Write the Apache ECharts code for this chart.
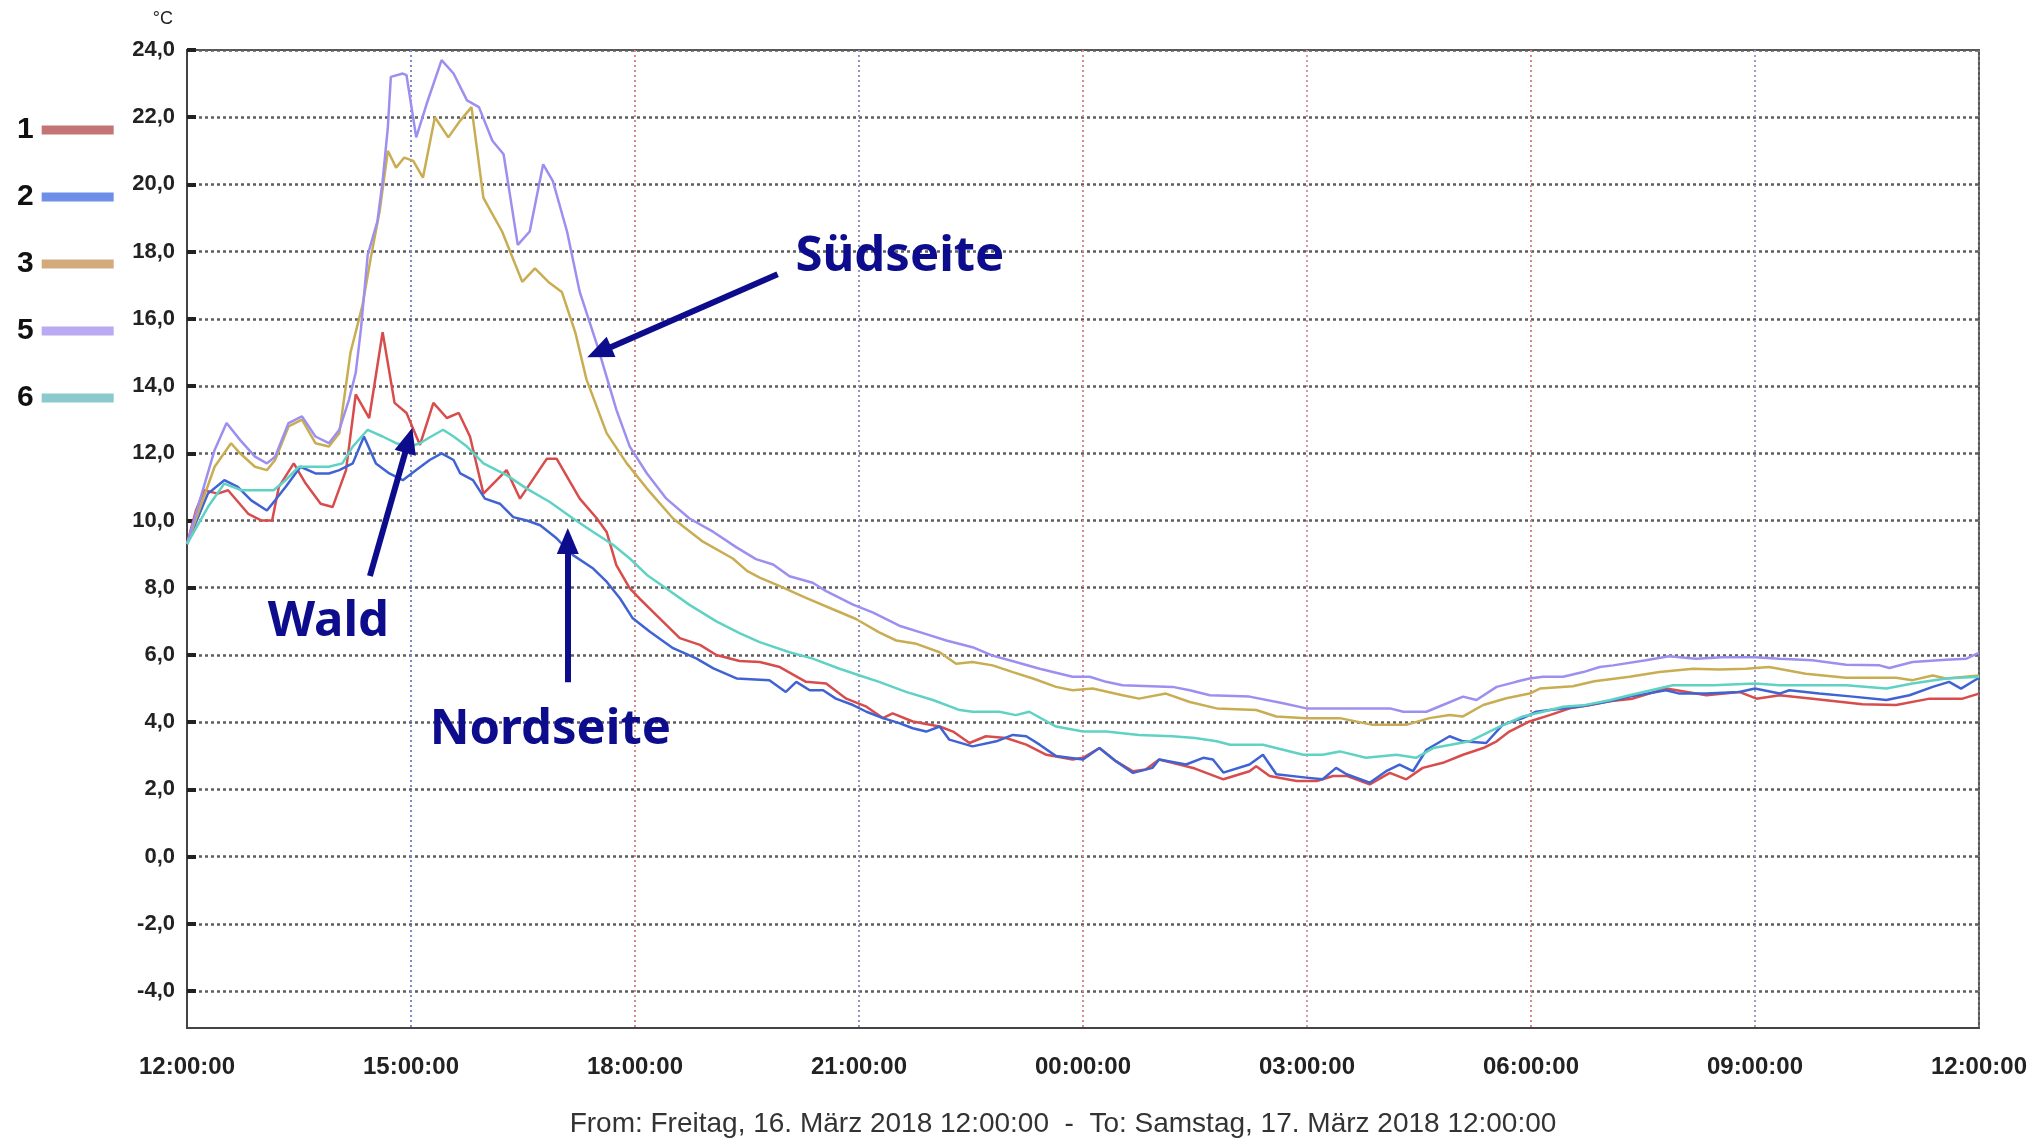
<!DOCTYPE html>
<html><head><meta charset="utf-8">
<script src="https://cdn.jsdelivr.net/npm/echarts@6/dist/echarts.min.js"></script>
<style>html,body{margin:0;padding:0;background:#fff}#c{width:2030px;height:1139px}</style>
</head><body><div id="c"></div>
<script>
// ---- data (hours after Fri 12:00, °C) ----
const seriesNames = ['1', '2', '3', '5', '6'];
const legendColors = ['#c47474', '#6d8fe8', '#d3aa7a', '#b9aaf2', '#8ac9cc'];
const lineColors = ['#d84c4c', '#4063d4', '#c9ad52', '#9d8ff0', '#5fd2c4'];
const xTickLabels = ['12:00:00', '15:00:00', '18:00:00', '21:00:00', '00:00:00', '03:00:00', '06:00:00', '09:00:00', '12:00:00'];
const yTickValues = [-4, -2, 0, 2, 4, 6, 8, 10, 12, 14, 16, 18, 20, 22, 24];
const subtitle = 'From: Freitag, 16. März 2018 12:00:00  -  To: Samstag, 17. März 2018 12:00:00';

const s1 = [[0,9.3],[0.12,10.3],[0.23,10.9],[0.41,10.8],[0.55,10.9],[0.82,10.2],[1.0,10.0],[1.14,10.0],[1.23,11.0],[1.43,11.7],[1.59,11.1],[1.79,10.5],[1.95,10.4],[2.13,11.5],[2.26,13.75],[2.44,13.05],[2.62,15.6],[2.78,13.5],[2.94,13.2],[3.12,12.25],[3.30,13.5],[3.48,13.05],[3.64,13.2],[3.79,12.5],[3.97,10.8],[4.28,11.5],[4.46,10.65],[4.82,11.84],[4.95,11.84],[5.26,10.65],[5.49,10.06],[5.62,9.66],[5.75,8.67],[5.93,7.98],[6.06,7.68],[6.33,7.09],[6.6,6.5],[6.87,6.3],[7.09,6.0],[7.40,5.82],[7.67,5.79],[7.94,5.64],[8.29,5.2],[8.56,5.15],[8.83,4.7],[9.10,4.46],[9.32,4.12],[9.45,4.26],[9.72,4.02],[10.08,3.87],[10.26,3.72],[10.48,3.38],[10.70,3.58],[10.97,3.53],[11.24,3.33],[11.51,3.03],[11.86,2.89],[12.0,2.94],[12.22,3.23],[12.44,2.84],[12.67,2.54],[12.84,2.59],[13.02,2.89],[13.29,2.74],[13.50,2.62],[13.88,2.3],[14.23,2.54],[14.32,2.69],[14.5,2.4],[14.86,2.25],[15.13,2.25],[15.35,2.4],[15.53,2.4],[15.84,2.15],[16.11,2.49],[16.33,2.3],[16.55,2.64],[16.82,2.79],[17.09,3.03],[17.36,3.23],[17.54,3.43],[17.71,3.72],[17.98,4.02],[18.25,4.21],[18.52,4.41],[18.78,4.5],[19.05,4.62],[19.36,4.7],[19.81,5.0],[20.35,4.8],[20.79,4.9],[21.02,4.7],[21.33,4.8],[21.77,4.7],[22.44,4.53],[22.89,4.51],[23.34,4.7],[23.78,4.7],[24.0,4.85]];
const s2 = [[0,9.3],[0.28,10.8],[0.50,11.2],[0.68,11.0],[0.86,10.6],[1.07,10.3],[1.18,10.6],[1.32,11.0],[1.52,11.6],[1.72,11.4],[1.90,11.4],[2.04,11.5],[2.22,11.7],[2.37,12.5],[2.53,11.7],[2.71,11.4],[2.89,11.2],[3.07,11.5],[3.25,11.8],[3.41,12.0],[3.57,11.8],[3.66,11.4],[3.83,11.2],[3.99,10.65],[4.19,10.5],[4.37,10.1],[4.55,10.0],[4.73,9.86],[4.95,9.47],[5.17,8.97],[5.44,8.57],[5.62,8.18],[5.80,7.68],[5.97,7.09],[6.2,6.69],[6.51,6.2],[6.82,5.9],[7.05,5.6],[7.36,5.3],[7.80,5.25],[8.02,4.9],[8.16,5.2],[8.34,4.95],[8.52,4.95],[8.69,4.7],[8.92,4.51],[9.10,4.31],[9.32,4.12],[9.54,3.97],[9.72,3.82],[9.90,3.72],[10.08,3.87],[10.21,3.48],[10.52,3.28],[10.84,3.43],[11.06,3.62],[11.24,3.58],[11.42,3.33],[11.64,2.99],[12.0,2.89],[12.22,3.23],[12.44,2.84],[12.67,2.49],[12.93,2.64],[13.02,2.89],[13.38,2.74],[13.61,2.94],[13.74,2.89],[13.88,2.5],[14.23,2.74],[14.41,3.03],[14.59,2.45],[14.99,2.35],[15.21,2.3],[15.39,2.64],[15.53,2.45],[15.84,2.2],[16.06,2.54],[16.24,2.74],[16.42,2.54],[16.6,3.18],[16.91,3.58],[17.09,3.43],[17.40,3.38],[17.62,3.92],[17.89,4.12],[18.07,4.31],[18.25,4.36],[18.43,4.41],[18.70,4.48],[19.05,4.62],[19.32,4.76],[19.81,4.95],[19.99,4.85],[20.35,4.85],[20.79,4.9],[21.0,5.0],[21.33,4.85],[21.46,4.95],[21.86,4.85],[22.31,4.76],[22.76,4.66],[23.07,4.8],[23.38,5.05],[23.6,5.2],[23.76,5.0],[24.0,5.32]];
const s3 = [[0,9.3],[0.37,11.6],[0.59,12.3],[0.71,12.0],[0.91,11.6],[1.07,11.5],[1.18,11.8],[1.36,12.8],[1.54,13.0],[1.72,12.3],[1.90,12.2],[2.04,12.6],[2.19,15.0],[2.35,16.4],[2.46,17.8],[2.58,19.2],[2.69,21.0],[2.80,20.5],[2.91,20.8],[3.03,20.7],[3.16,20.2],[3.32,22.0],[3.50,21.4],[3.66,21.9],[3.81,22.3],[3.97,19.6],[4.22,18.6],[4.49,17.1],[4.66,17.5],[4.84,17.1],[5.02,16.8],[5.20,15.6],[5.35,14.2],[5.62,12.6],[5.89,11.7],[6.16,10.95],[6.51,10.06],[6.91,9.37],[7.31,8.87],[7.50,8.5],[7.67,8.3],[7.94,8.05],[8.29,7.7],[8.65,7.36],[8.96,7.07],[9.27,6.67],[9.50,6.43],[9.77,6.33],[10.08,6.08],[10.30,5.74],[10.52,5.79],[10.79,5.69],[11.06,5.49],[11.33,5.3],[11.64,5.05],[11.86,4.95],[12.13,5.0],[12.53,4.8],[12.75,4.7],[13.11,4.85],[13.43,4.6],[13.79,4.41],[14.32,4.36],[14.59,4.17],[14.99,4.12],[15.44,4.12],[15.88,3.92],[16.33,3.92],[16.64,4.12],[16.91,4.21],[17.09,4.17],[17.36,4.51],[17.67,4.71],[17.98,4.85],[18.12,5.0],[18.56,5.07],[18.85,5.22],[19.32,5.35],[19.72,5.49],[20.17,5.59],[20.52,5.57],[20.88,5.59],[21.19,5.64],[21.68,5.44],[22.22,5.32],[22.89,5.32],[23.11,5.25],[23.38,5.39],[23.56,5.3],[24.0,5.39]];
const s5 = [[0,9.3],[0.37,12.1],[0.53,12.9],[0.71,12.4],[0.91,11.9],[1.07,11.7],[1.18,11.9],[1.36,12.9],[1.54,13.1],[1.72,12.5],[1.90,12.3],[2.04,12.7],[2.17,13.6],[2.26,14.4],[2.33,15.7],[2.42,17.9],[2.55,18.9],[2.62,20.1],[2.69,21.7],[2.73,23.2],[2.89,23.3],[2.94,23.25],[3.07,21.4],[3.21,22.4],[3.41,23.7],[3.57,23.3],[3.75,22.5],[3.91,22.3],[4.09,21.3],[4.24,20.9],[4.43,18.2],[4.59,18.6],[4.77,20.6],[4.90,20.1],[5.09,18.6],[5.26,16.8],[5.51,15.1],[5.75,13.3],[5.93,12.2],[6.16,11.4],[6.42,10.65],[6.73,10.06],[7.05,9.66],[7.36,9.2],[7.62,8.85],[7.85,8.69],[8.07,8.34],[8.38,8.15],[8.56,7.9],[8.92,7.5],[9.19,7.26],[9.54,6.87],[9.90,6.62],[10.17,6.43],[10.52,6.23],[10.79,5.98],[11.10,5.79],[11.42,5.59],[11.86,5.35],[12.09,5.35],[12.31,5.2],[12.53,5.1],[13.2,5.05],[13.43,4.95],[13.70,4.8],[14.23,4.76],[14.68,4.56],[14.99,4.41],[15.66,4.41],[16.11,4.41],[16.29,4.31],[16.6,4.31],[16.82,4.51],[17.09,4.76],[17.27,4.66],[17.54,5.05],[17.80,5.2],[17.98,5.3],[18.16,5.35],[18.43,5.35],[18.70,5.49],[18.92,5.64],[19.1,5.69],[19.54,5.84],[19.85,5.96],[20.21,5.89],[20.57,5.93],[21.0,5.93],[21.33,5.89],[21.77,5.84],[22.22,5.71],[22.67,5.69],[22.8,5.61],[23.11,5.79],[23.56,5.86],[23.83,5.89],[24.0,6.06]];
const s6 = [[0,9.3],[0.28,10.4],[0.50,11.1],[0.73,10.9],[0.95,10.9],[1.16,10.9],[1.32,11.2],[1.50,11.6],[1.72,11.6],[1.90,11.6],[2.08,11.7],[2.22,12.2],[2.42,12.7],[2.62,12.5],[2.80,12.3],[2.98,12.2],[3.12,12.3],[3.27,12.5],[3.43,12.7],[3.57,12.5],[3.75,12.2],[3.97,11.7],[4.28,11.35],[4.55,10.95],[4.86,10.55],[5.17,10.06],[5.44,9.66],[5.71,9.27],[5.93,8.87],[6.16,8.38],[6.42,7.98],[6.73,7.49],[7.09,7.0],[7.40,6.65],[7.67,6.38],[8.07,6.08],[8.38,5.89],[8.74,5.59],[9.01,5.39],[9.27,5.2],[9.63,4.9],[9.99,4.66],[10.35,4.36],[10.52,4.31],[10.88,4.31],[11.10,4.21],[11.28,4.31],[11.64,3.87],[12.0,3.72],[12.31,3.72],[12.75,3.62],[13.2,3.58],[13.5,3.53],[13.79,3.43],[13.97,3.33],[14.41,3.33],[14.68,3.18],[14.95,3.03],[15.21,3.03],[15.44,3.13],[15.79,2.94],[16.20,3.03],[16.46,2.94],[16.69,3.23],[17.18,3.43],[17.54,3.82],[17.89,4.17],[18.16,4.31],[18.43,4.46],[18.70,4.5],[19.05,4.65],[19.32,4.8],[19.90,5.1],[20.44,5.1],[21.0,5.15],[21.33,5.1],[22.22,5.1],[22.76,5.0],[23.11,5.15],[23.56,5.3],[24.0,5.35]];
const seriesData = [s1, s2, s3, s5, s6];

// annotations (data coordinates)
const annotTexts = ['Südseite', 'Wald', 'Nordseite'];
const annotAnchors = [[8.15, 17.85], [1.08, 6.97], [3.25, 3.78]];
const arrowFrom = [[7.91, 17.33], [2.45, 8.35], [5.10, 5.19]];
const arrowTo = [[5.52, 15.01], [2.97, 12.39], [5.10, 9.39]];

const vGridColors = ['#777', '#7f88c8', '#d88a8a', '#8f96c0', '#d88a95', '#d59aa5', '#d88a8a', '#9aa0c0', '#777'];
const navy = '#0c0c8c';

const chart = echarts.init(document.getElementById('c'));
const series = seriesData.map((d, i) => ({
  name: seriesNames[i], type: 'line', data: d, symbol: 'none', showSymbol: false,
  lineStyle: { color: lineColors[i], width: 2.5 }, itemStyle: { color: lineColors[i] }
}));
series.push({
  name: 'annot', type: 'line', data: [], symbol: 'none', z: 10,
  markLine: {
    silent: true, symbol: ['none', 'triangle'], symbolSize: [22, 26], animation: false,
    label: { show: false },
    lineStyle: { color: navy, width: 6, type: 'solid', opacity: 1 },
    data: arrowFrom.map((f, i) => [{ coord: f }, { coord: arrowTo[i] }])
  }
});

chart.setOption({
  animation: false,
  backgroundColor: '#fff',
  textStyle: { fontFamily: '"Liberation Sans", Arial, sans-serif' },
  grid: { left: 187, right: 50, top: 50, bottom: 111, show: true, borderColor: '#555', borderWidth: 2 },
  legend: {
    orient: 'vertical', left: 12, top: 110, align: 'right', icon: 'rect',
    itemWidth: 72, itemHeight: 9, itemGap: 37, selectedMode: false,
    textStyle: { fontSize: 30, fontWeight: 'bold', color: '#111', lineHeight: 30, padding: [0, 3, 0, 0] },
    data: seriesNames.map((n, i) => ({ name: n, itemStyle: { color: legendColors[i], borderWidth: 0 } }))
  },
  xAxis: {
    type: 'value', min: 0, max: 24, interval: 3,
    axisLine: { show: true, onZero: false, lineStyle: { color: '#444', width: 2 } },
    axisTick: { show: false },
    axisLabel: { margin: 27, fontSize: 24, fontWeight: 'bold', color: '#222',
      formatter: v => xTickLabels[Math.round(v / 3)] },
    splitLine: { show: true, lineStyle: { type: [2, 3], width: 2, color: vGridColors } }
  },
  yAxis: {
    type: 'value', min: -5.1, max: 24, name: '°C', nameLocation: 'end', nameGap: 22,
    nameTextStyle: { fontSize: 18, color: '#222', align: 'right', padding: [0, 14, 0, 0] },
    axisLine: { show: true, lineStyle: { color: '#444', width: 2 } },
    axisTick: { show: true, inside: true, length: 9, lineStyle: { width: 4, color: '#222' }, customValues: yTickValues },
    axisLabel: { customValues: yTickValues, margin: 12, fontSize: 22, fontWeight: 'bold', color: '#222',
      formatter: v => v.toFixed(1).replace('.', ',') },
    splitLine: { show: true, lineStyle: { type: [3, 3], width: 2.5, color: '#5e5e5e' } }
  },
  series: series
});

const graphics = annotTexts.map((t, i) => {
  const p = chart.convertToPixel({ gridIndex: 0 }, annotAnchors[i]);
  return { type: 'text', x: p[0], y: p[1], z: 20,
    style: { text: t, fontSize: 49, fontWeight: 'bold', fontFamily: '"Noto Sans", sans-serif', fill: navy, align: 'left', verticalAlign: 'middle' } };
});
graphics.push({ type: 'text', x: 1063, y: 1124,
  style: { text: subtitle, fontSize: 28, fontFamily: '"Liberation Sans", Arial, sans-serif', fill: '#333', align: 'center', verticalAlign: 'middle' } });
chart.setOption({ graphic: graphics });
</script></body></html>
